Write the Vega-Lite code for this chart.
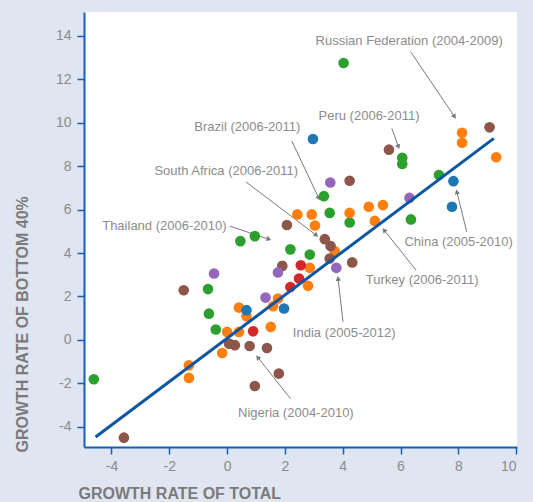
{
  "$schema": "https://vega.github.io/schema/vega-lite/v6.json",
  "width": 433,
  "height": 435,
  "autosize": {"type": "none"},
  "padding": {"left": 84, "top": 12, "right": 16, "bottom": 55},
  "background": "#dfe5f1",
  "config": {
    "view": {"fill": "white", "stroke": null},
    "font": "Liberation Sans",
    "axis": {
      "domainColor": "#1760ae",
      "domainWidth": 2,
      "tickColor": "#1760ae",
      "tickWidth": 1.5,
      "tickSize": 7,
      "labelColor": "#8c8c8c",
      "labelFontSize": 14,
      "labelFont": "Liberation Sans",
      "labelExpr": "toString(datum.value)",
      "titleColor": "#7a7a7a",
      "titleFont": "Liberation Sans",
      "titleFontSize": 16,
      "titleFontWeight": "bold",
      "grid": false
    },
    "axisX": {"labelPadding": 5, "titleX": -6, "titleY": 46, "titleAlign": "left", "titleBaseline": "middle", "titleAnchor": null},
    "axisY": {"labelPadding": 6, "titleX": -62, "titleY": 440, "titleAlign": "left", "titleBaseline": "middle", "titleAngle": 270, "titleAnchor": null}
  },
  "datasets": {
    "points": [
      {"g": "green", "x": -4.61, "y": -1.81}, {"g": "green", "x": 4.03, "y": 12.75}, {"g": "green", "x": 0.46, "y": 4.55}, {"g": "green", "x": 0.96, "y": 4.78},
      {"g": "green", "x": 2.19, "y": 4.17}, {"g": "green", "x": -0.66, "y": 2.34}, {"g": "green", "x": -0.63, "y": 1.21}, {"g": "green", "x": -0.39, "y": 0.48},
      {"g": "green", "x": 3.35, "y": 6.62}, {"g": "green", "x": 3.55, "y": 5.85}, {"g": "green", "x": 4.24, "y": 5.41}, {"g": "green", "x": 2.86, "y": 3.93},
      {"g": "green", "x": 6.06, "y": 8.39}, {"g": "green", "x": 6.06, "y": 8.1}, {"g": "green", "x": 7.33, "y": 7.59}, {"g": "green", "x": 6.36, "y": 5.55},
      {"g": "orange", "x": -1.32, "y": -1.17}, {"g": "orange", "x": -1.32, "y": -1.75}, {"g": "orange", "x": 0.41, "y": 1.49}, {"g": "orange", "x": 0.67, "y": 1.09},
      {"g": "orange", "x": 0.0, "y": 0.37}, {"g": "orange", "x": 0.41, "y": 0.37}, {"g": "orange", "x": -0.17, "y": -0.6}, {"g": "orange", "x": 1.51, "y": 0.6},
      {"g": "orange", "x": 1.76, "y": 1.91}, {"g": "orange", "x": 1.59, "y": 1.55}, {"g": "orange", "x": 2.43, "y": 5.78}, {"g": "orange", "x": 2.93, "y": 5.78},
      {"g": "orange", "x": 3.04, "y": 5.27}, {"g": "orange", "x": 4.24, "y": 5.85}, {"g": "orange", "x": 4.9, "y": 6.13}, {"g": "orange", "x": 5.39, "y": 6.21},
      {"g": "orange", "x": 5.11, "y": 5.48}, {"g": "orange", "x": 3.72, "y": 4.09}, {"g": "orange", "x": 2.86, "y": 3.32}, {"g": "orange", "x": 2.8, "y": 2.49},
      {"g": "orange", "x": 9.31, "y": 8.41}, {"g": "orange", "x": 8.13, "y": 9.54}, {"g": "orange", "x": 8.13, "y": 9.08},
      {"g": "brown", "x": -3.57, "y": -4.5}, {"g": "brown", "x": -1.5, "y": 2.29}, {"g": "brown", "x": 0.07, "y": -0.17}, {"g": "brown", "x": 0.27, "y": -0.24},
      {"g": "brown", "x": 0.78, "y": -0.28}, {"g": "brown", "x": 1.38, "y": -0.37}, {"g": "brown", "x": 1.79, "y": -1.55}, {"g": "brown", "x": 0.96, "y": -2.12},
      {"g": "brown", "x": 2.07, "y": 5.29}, {"g": "brown", "x": 1.91, "y": 3.41}, {"g": "brown", "x": 4.24, "y": 7.33}, {"g": "brown", "x": 3.38, "y": 4.64},
      {"g": "brown", "x": 3.58, "y": 4.32}, {"g": "brown", "x": 3.55, "y": 3.75}, {"g": "brown", "x": 4.33, "y": 3.57}, {"g": "brown", "x": 5.6, "y": 8.76},
      {"g": "brown", "x": 9.08, "y": 9.79},
      {"g": "blue", "x": 2.97, "y": 9.25}, {"g": "blue", "x": 0.67, "y": 1.37}, {"g": "blue", "x": 1.97, "y": 1.45}, {"g": "blue", "x": 7.83, "y": 7.31}, {"g": "blue", "x": 7.78, "y": 6.13},
      {"g": "purple", "x": -0.45, "y": 3.06}, {"g": "purple", "x": 1.76, "y": 3.11}, {"g": "purple", "x": 1.33, "y": 1.95}, {"g": "purple", "x": 3.57, "y": 7.25}, {"g": "purple", "x": 3.78, "y": 3.32}, {"g": "purple", "x": 6.31, "y": 6.54},
      {"g": "red", "x": 0.9, "y": 0.4}, {"g": "red", "x": 2.19, "y": 2.44}, {"g": "red", "x": 2.49, "y": 2.83}, {"g": "red", "x": 2.55, "y": 3.44}
    ],
    "fit": [{"x": -4.55, "y": -4.47}, {"x": 9.23, "y": 9.28}],
    "notes": [
      {"label": "Russian Federation (2004-2009)", "tx": 6.3, "ty": 13.78, "x": 6.35, "y": 13.27, "x2": 7.87, "y2": 10.28},
      {"label": "Peru (2006-2011)", "tx": 4.91, "ty": 10.31, "x": 5.7, "y": 9.74, "x2": 5.93, "y2": 8.89},
      {"label": "Brazil (2006-2011)", "tx": 0.7, "ty": 9.8, "x": 2.24, "y": 9.16, "x2": 3.17, "y2": 6.53},
      {"label": "South Africa (2006-2011)", "tx": -0.03, "ty": 7.79, "x": 0.65, "y": 7.28, "x2": 3.09, "y2": 4.82},
      {"label": "Thailand (2006-2010)", "tx": -2.17, "ty": 5.25, "x": 0.09, "y": 5.24, "x2": 1.45, "y2": 4.64},
      {"label": "India (2005-2012)", "tx": 4.05, "ty": 0.34, "x": 4.01, "y": 0.83, "x2": 3.84, "y2": 2.83},
      {"label": "Turkey (2006-2011)", "tx": 6.75, "ty": 2.75, "x": 6.54, "y": 3.21, "x2": 5.43, "y2": 5.06},
      {"label": "China (2005-2010)", "tx": 8.01, "ty": 4.52, "x": 8.29, "y": 4.98, "x2": 7.95, "y2": 6.82},
      {"label": "Nigeria (2004-2010)", "tx": 2.38, "ty": -3.35, "x": 2.19, "y": -2.7, "x2": 1.06, "y2": -0.8}
    ]
  },
  "layer": [
    {
      "mark": {"type": "rule", "color": "#1760ae", "strokeDash": [2, 3], "strokeWidth": 1.5},
      "encoding": {
        "x": {"datum": 0, "type": "quantitative", "title": "GROWTH RATE OF TOTAL", "scale": {"domain": [-4.95, 10.03], "nice": false, "zero": false}}
      }
    },
    {
      "mark": {"type": "rule", "color": "#1760ae", "strokeDash": [2, 3], "strokeWidth": 1.5},
      "encoding": {
        "y": {"datum": 0, "type": "quantitative", "title": "GROWTH RATE OF BOTTOM 40%", "scale": {"domain": [-4.93, 15.1], "nice": false, "zero": false}}
      }
    },
    {
      "data": {"name": "notes"},
      "mark": {"type": "rule", "color": "#7a7a7a", "strokeWidth": 1},
      "encoding": {
        "x": {"field": "x", "type": "quantitative", "title": "GROWTH RATE OF TOTAL", "scale": {"domain": [-4.95, 10.03], "nice": false, "zero": false}},
        "y": {"field": "y", "type": "quantitative", "title": "GROWTH RATE OF BOTTOM 40%", "scale": {"domain": [-4.93, 15.1], "nice": false, "zero": false}},
        "x2": {"field": "x2"},
        "y2": {"field": "y2"}
      }
    },
    {
      "data": {"name": "notes"},
      "transform": [
        {"calculate": "atan2((datum.x2 - datum.x) * 28.9, (datum.y2 - datum.y) * 21.72) * 180 / PI", "as": "ang"}
      ],
      "mark": {"type": "point", "shape": "triangle-up", "filled": true, "color": "#7a7a7a", "size": 30, "opacity": 1},
      "encoding": {
        "x": {"field": "x2", "type": "quantitative", "title": "GROWTH RATE OF TOTAL", "scale": {"domain": [-4.95, 10.03], "nice": false, "zero": false}},
        "y": {"field": "y2", "type": "quantitative", "title": "GROWTH RATE OF BOTTOM 40%", "scale": {"domain": [-4.93, 15.1], "nice": false, "zero": false}},
        "angle": {"field": "ang", "type": "quantitative", "scale": null}
      }
    },
    {
      "data": {"name": "points"},
      "mark": {"type": "circle", "size": 113, "opacity": 1},
      "encoding": {
        "x": {"field": "x", "type": "quantitative", "title": "GROWTH RATE OF TOTAL", "axis": {"values": [-4, -2, 0, 2, 4, 6, 8, 10]}, "scale": {"domain": [-4.95, 10.03], "nice": false, "zero": false}},
        "y": {"field": "y", "type": "quantitative", "title": "GROWTH RATE OF BOTTOM 40%", "axis": {"values": [-4, -2, 0, 2, 4, 6, 8, 10, 12, 14]}, "scale": {"domain": [-4.93, 15.1], "nice": false, "zero": false}},
        "color": {
          "field": "g", "type": "nominal", "legend": null,
          "scale": {"domain": ["green", "orange", "brown", "blue", "purple", "red"], "range": ["#2ca02c", "#ff7f0e", "#8c564b", "#1f77b4", "#9467bd", "#d62728"]}
        }
      }
    },
    {
      "data": {"name": "fit"},
      "mark": {"type": "line", "color": "#0d56a3", "strokeWidth": 3},
      "encoding": {
        "x": {"field": "x", "type": "quantitative", "title": "GROWTH RATE OF TOTAL", "scale": {"domain": [-4.95, 10.03], "nice": false, "zero": false}},
        "y": {"field": "y", "type": "quantitative", "title": "GROWTH RATE OF BOTTOM 40%", "scale": {"domain": [-4.93, 15.1], "nice": false, "zero": false}}
      }
    },
    {
      "data": {"name": "notes"},
      "mark": {"type": "text", "font": "Liberation Sans", "fontSize": 13, "color": "#8c8c8c", "align": "center", "baseline": "middle"},
      "encoding": {
        "x": {"field": "tx", "type": "quantitative", "title": "GROWTH RATE OF TOTAL", "scale": {"domain": [-4.95, 10.03], "nice": false, "zero": false}},
        "y": {"field": "ty", "type": "quantitative", "title": "GROWTH RATE OF BOTTOM 40%", "scale": {"domain": [-4.93, 15.1], "nice": false, "zero": false}},
        "text": {"field": "label"}
      }
    }
  ]
}
